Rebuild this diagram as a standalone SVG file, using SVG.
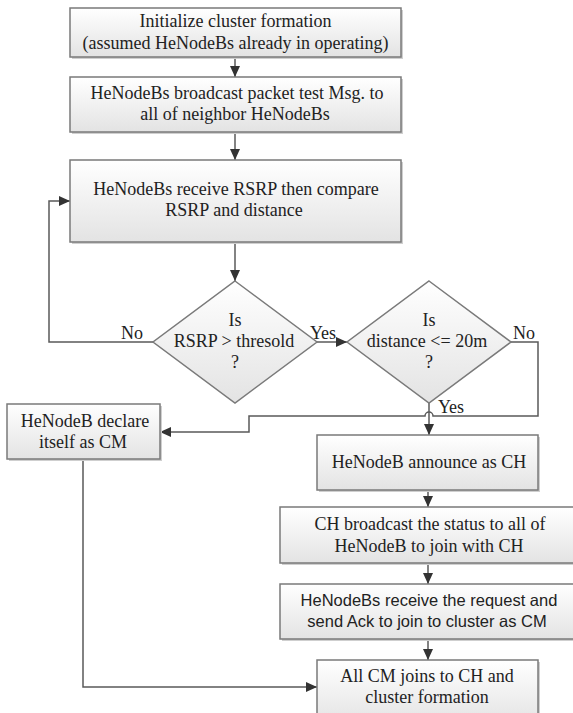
<svg xmlns="http://www.w3.org/2000/svg" width="573" height="713" viewBox="0 0 573 713">
  <defs>
    <linearGradient id="g" x1="0" y1="0" x2="0" y2="1">
      <stop offset="0" stop-color="#ffffff"/>
      <stop offset="1" stop-color="#e3e3e3"/>
    </linearGradient>
    <marker id="ah" markerUnits="userSpaceOnUse" markerWidth="12" markerHeight="10" refX="11" refY="5" orient="auto">
      <path d="M0,0 L11,5 L0,10 Z" fill="#333"/>
    </marker>
  </defs>
  <style>
    .box { fill: url(#g); stroke: #7a7a7a; stroke-width: 1.5; }
    .shadow { fill: #cfcfcf; stroke: none; }
    .t { font-size: 18px; fill: #222; text-anchor: middle; }
    .s { font-size: 16.5px; fill: #222; text-anchor: middle; }
    .c { fill: none; stroke: #5a5a5a; stroke-width: 1.5; }
    .a { marker-end: url(#ah); }
  </style>
  <rect width="573" height="713" fill="#ffffff"/>

  <g id="connectors" font-family="'Liberation Serif', Tinos, 'DejaVu Serif', serif">
    <path class="c a" d="M235,57 V77"/>
    <path class="c a" d="M235,132 V160"/>
    <path class="c a" d="M235,242 V281"/>
    <path class="c a" d="M153,342 H49 V201 H70"/>
    <path class="c a" d="M317,342 H347"/>
    <path class="c a" d="M511,342 H538 V416 H433 A4,4 0 0 0 425,416 H249 V432 H160"/>
    <path class="c a" d="M429,403 V435"/>
    <path class="c a" d="M428,490 V507"/>
    <path class="c a" d="M428,563 V584"/>
    <path class="c a" d="M428,639 V660"/>
    <path class="c a" d="M83,459 V687 H317"/>
    <text class="t" x="132" y="339">No</text>
    <text class="t" x="323" y="339">Yes</text>
    <text class="t" x="524" y="339">No</text>
    <text class="t" x="451" y="413">Yes</text>
  </g>

  <g id="nodes" font-family="'Liberation Serif', Tinos, 'DejaVu Serif', serif">
  <g id="n1">
    <rect class="shadow" x="72" y="10" width="331" height="49"/>
    <rect class="box" x="70" y="8" width="331" height="49"/>
    <text class="t" x="235.5" y="27">Initialize cluster formation</text>
    <text class="t" x="235.5" y="49">(assumed HeNodeBs already in operating)</text>
  </g>

  <g id="n2">
    <rect class="shadow" x="72" y="79" width="331" height="55"/>
    <rect class="box" x="70" y="77" width="331" height="55"/>
    <text class="t" x="237" y="99">HeNodeBs broadcast packet test Msg. to</text>
    <text class="t" x="235" y="120">all of neighbor HeNodeBs</text>
  </g>

  <g id="n3">
    <rect class="shadow" x="72" y="162" width="331" height="82"/>
    <rect class="box" x="70" y="160" width="331" height="82"/>
    <text class="t" x="236" y="195">HeNodeBs receive RSRP then compare</text>
    <text class="t" x="234" y="216">RSRP and distance</text>
  </g>

  <g id="d1">
    <polygon class="box" points="235,281 317,342 235,403 153,342"/>
    <text class="t" x="235" y="326">Is</text>
    <text class="t" x="234" y="347">RSRP &gt; thresold</text>
    <text class="t" x="235" y="368">?</text>
  </g>

  <g id="d2">
    <polygon class="box" points="429,281 511,342 429,403 347,342"/>
    <text class="t" x="429" y="326">Is</text>
    <text class="t" x="427" y="347">distance &lt;= 20m</text>
    <text class="t" x="429" y="368">?</text>
  </g>

  <g id="n4">
    <rect class="shadow" x="9" y="406" width="153" height="55"/>
    <rect class="box" x="7" y="404" width="153" height="55"/>
    <text class="t" x="85" y="427">HeNodeB declare</text>
    <text class="t" x="83" y="448">itself as CM</text>
  </g>

  <g id="n5">
    <rect class="shadow" x="319" y="437" width="221" height="55"/>
    <rect class="box" x="317" y="435" width="221" height="55"/>
    <text class="t" x="429" y="468">HeNodeB announce as CH</text>
  </g>

  <g id="n6">
    <rect class="shadow" x="282" y="509" width="310" height="56"/>
    <rect class="box" x="280" y="507" width="310" height="56"/>
    <text class="t" x="430" y="530">CH broadcast the status to all of</text>
    <text class="t" x="429" y="552">HeNodeB to join with CH</text>
  </g>

  <g id="n7">
    <rect class="shadow" x="282" y="586" width="310" height="55"/>
    <rect class="box" x="280" y="584" width="310" height="55"/>
    <text class="s" font-family="'Liberation Sans', Arimo, Arial, sans-serif" x="429" y="606">HeNodeBs receive the request and</text>
    <text class="s" font-family="'Liberation Sans', Arimo, Arial, sans-serif" x="427" y="627">send Ack to join to cluster as CM</text>
  </g>

  <g id="n8">
    <rect class="shadow" x="319" y="662" width="221" height="65"/>
    <rect class="box" x="317" y="660" width="221" height="65"/>
    <text class="t" x="427" y="682">All CM joins to CH and</text>
    <text class="t" x="427" y="703">cluster formation</text>
  </g>
  </g>
</svg>
